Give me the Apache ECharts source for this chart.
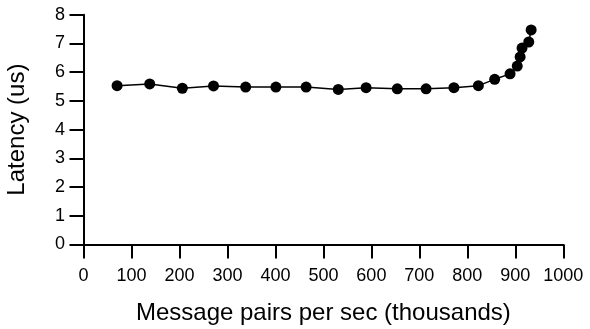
<!DOCTYPE html>
<html>
<head>
<meta charset="utf-8">
<script src="https://cdn.jsdelivr.net/npm/echarts@6/dist/echarts.min.js"></script>
<style>html,body{margin:0;padding:0;background:#fff}#c{width:590px;height:329px}</style>
</head>
<body>
<div id="c"></div>
<script>
const throughput = [70, 138, 206, 271, 338, 401, 464, 531, 589, 654, 714, 772, 823, 857, 889, 904, 910, 914, 928, 933];
const latency = [5.53, 5.59, 5.44, 5.52, 5.48, 5.48, 5.48, 5.40, 5.46, 5.42, 5.42, 5.46, 5.53, 5.75, 5.94, 6.21, 6.53, 6.84, 7.05, 7.47];
const xTicks = {min: 0, max: 1000, interval: 100};
const yTicks = {min: 0, max: 8, interval: 1};

const font = 'Liberation Sans, Arial, sans-serif';
const chart = echarts.init(document.getElementById('c'), null, {renderer: 'canvas'});
chart.setOption({
  animation: false,
  grid: {left: 83.5, right: 26.7, top: 14.7, bottom: 84.5, containLabel: false, outerBoundsMode: 'none'},
  xAxis: {
    type: 'value', min: xTicks.min, max: xTicks.max, interval: xTicks.interval,
    name: 'Message pairs per sec (thousands)', nameLocation: 'middle', nameGap: 57,
    nameTextStyle: {fontFamily: font, fontSize: 24, color: '#000'},
    axisLine: {show: true, onZero: false, lineStyle: {color: '#000', width: 2}},
    axisTick: {show: true, length: 14, lineStyle: {color: '#000', width: 2}},
    axisLabel: {fontFamily: font, fontSize: 18, color: '#000', margin: 23, formatter: v => String(v)},
    splitLine: {show: false}
  },
  yAxis: {
    type: 'value', min: yTicks.min, max: yTicks.max, interval: yTicks.interval,
    name: 'Latency (us)', nameLocation: 'middle', nameGap: 54.5, nameRotate: 90,
    nameTextStyle: {fontFamily: font, fontSize: 24, color: '#000'},
    axisLine: {show: true, onZero: false, lineStyle: {color: '#000', width: 2}},
    axisTick: {show: true, length: 14, lineStyle: {color: '#000', width: 2}},
    axisLabel: {fontFamily: font, fontSize: 18, color: '#000', margin: 18.5, formatter: v => String(v)},
    splitLine: {show: false}
  },
  series: [{
    type: 'line',
    data: throughput.map((x, i) => [x, latency[i]]),
    symbol: 'circle', symbolSize: 11,
    itemStyle: {color: '#000'},
    lineStyle: {color: '#000', width: 1.5}
  }]
});
</script>
</body>
</html>
